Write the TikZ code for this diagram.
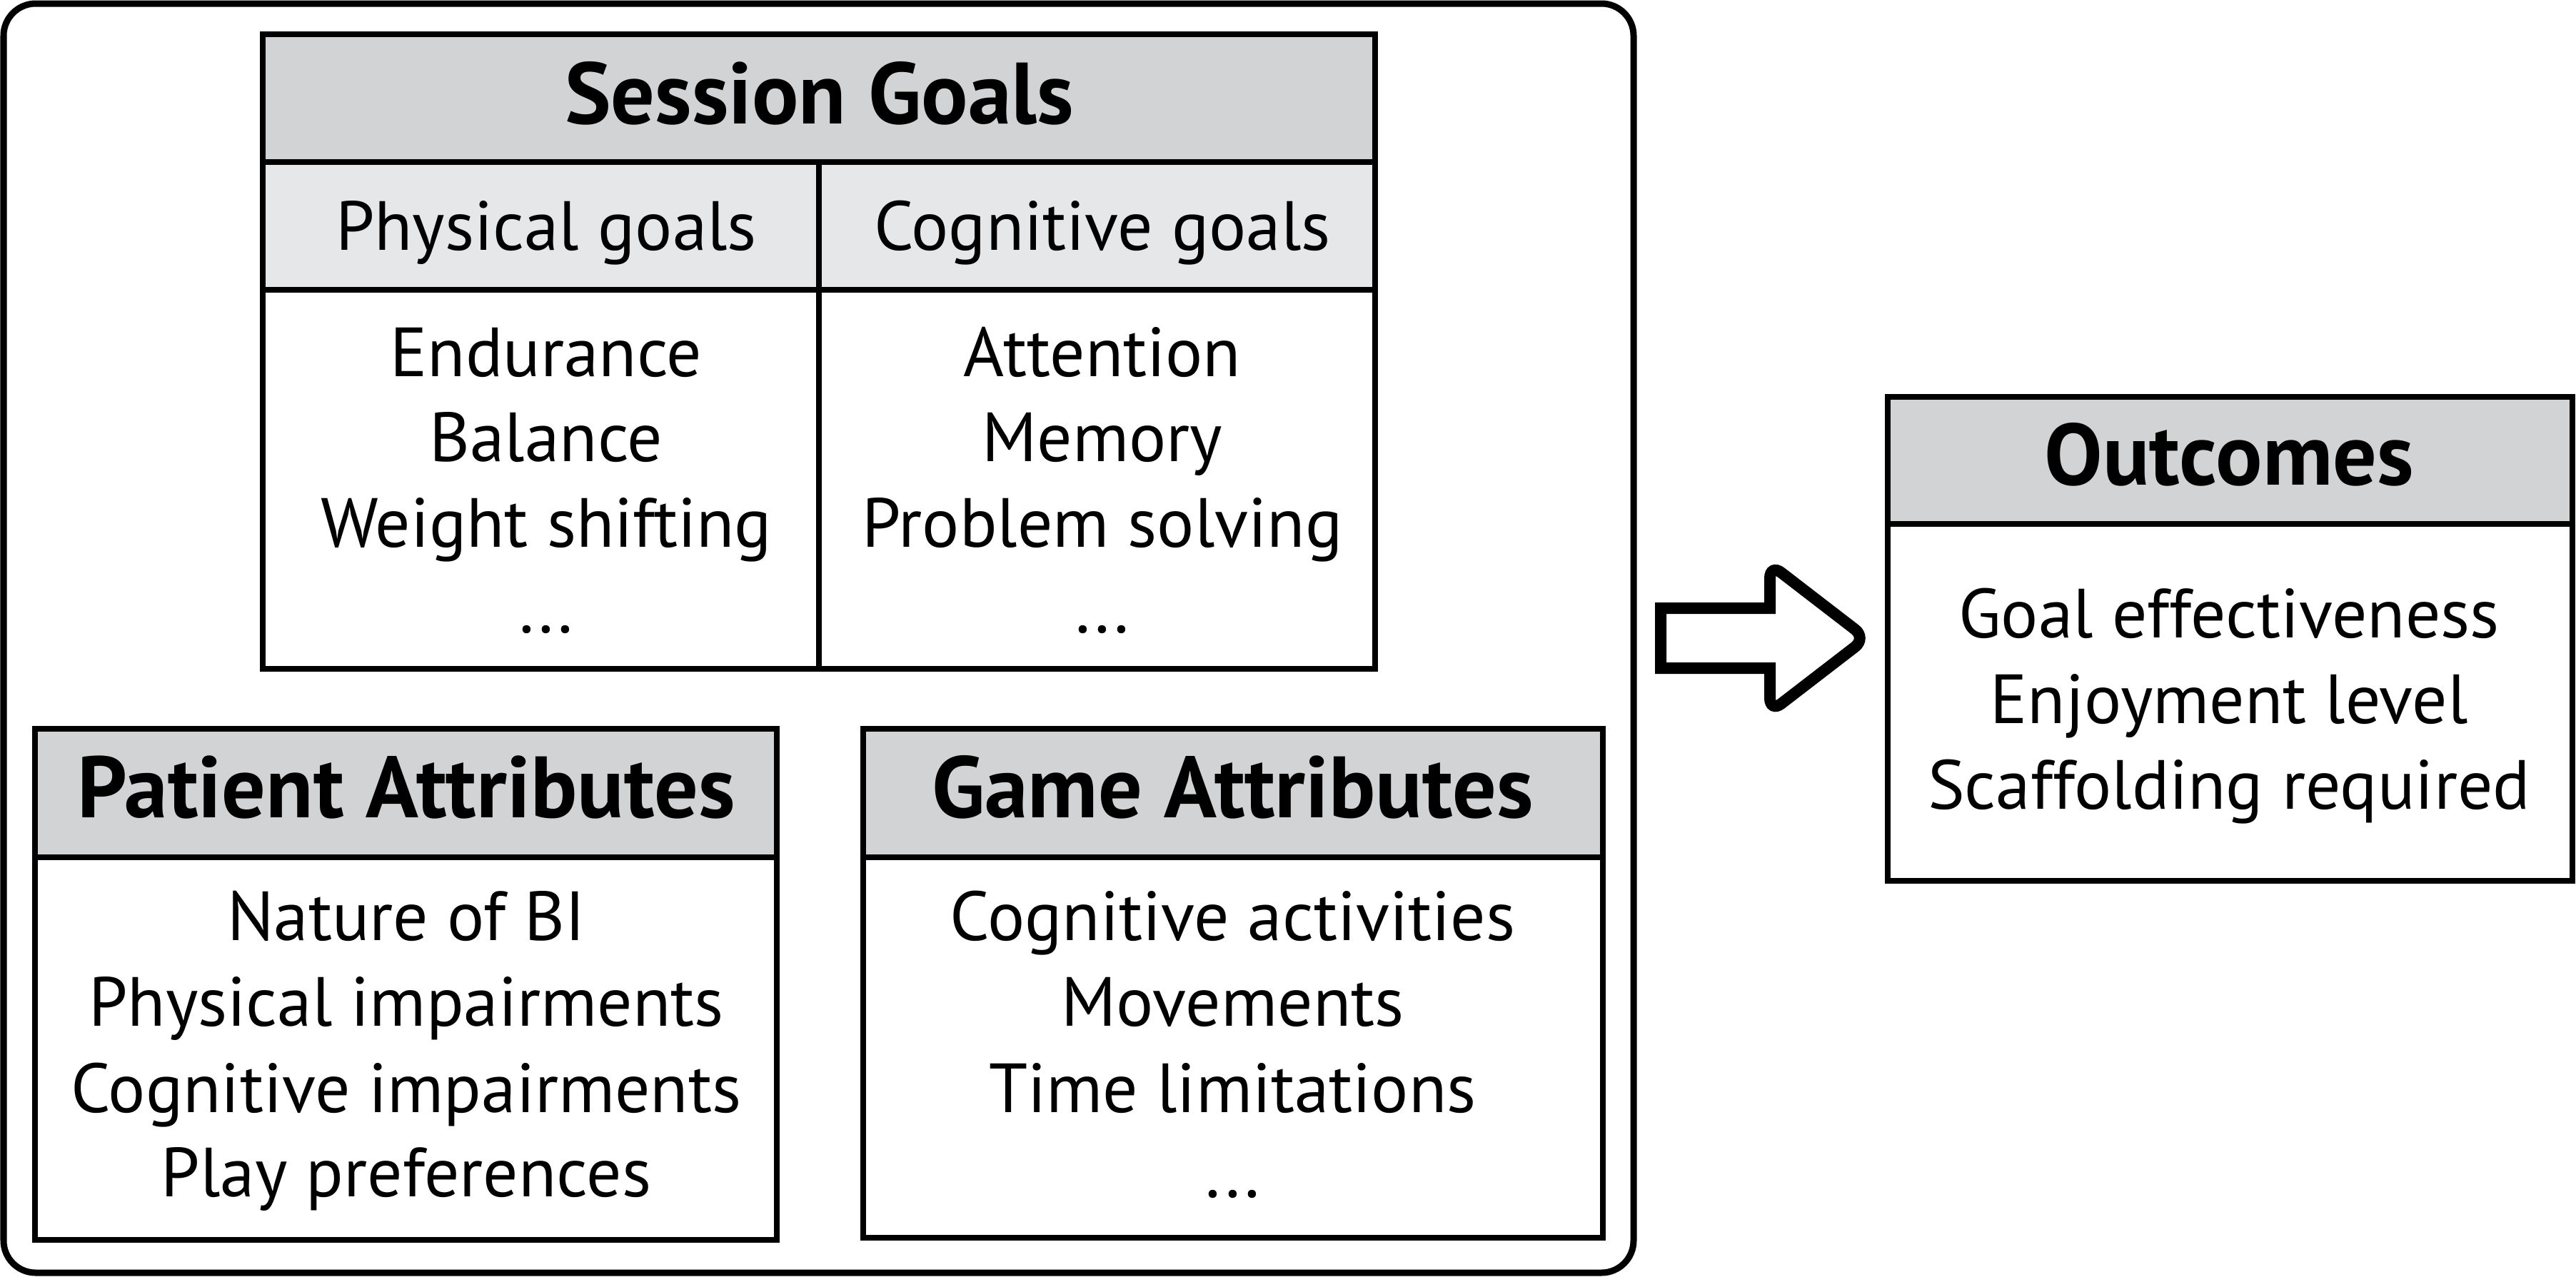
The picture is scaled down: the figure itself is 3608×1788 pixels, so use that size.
\documentclass[tikz,border=0pt]{standalone}
\usepackage{fontspec}
\setmainfont{PT Sans}
\definecolor{hdrgray}{HTML}{D1D3D4}
\definecolor{subgray}{HTML}{E6E7E8}
\begin{document}
\begin{tikzpicture}[x=0.2pt,y=-0.2pt,
  boxline/.style={line width=1.6pt, draw=black},
  bodytxt/.style={anchor=base, inner sep=0pt, font=\fontsize{19.5}{24}\selectfont},
  hdrtxt/.style={anchor=base, inner sep=0pt, font=\fontsize{24.4}{28}\selectfont\bfseries},
  blockarrow/.style={line width=3.2pt, draw=black, fill=white, line join=miter},
]
\useasboundingbox (0,0) rectangle (3608,1788);
% outer container
\draw[line width=1.8pt, rounded corners=9pt] (5,5) rectangle (2288,1783);

% ---------- Session Goals ----------
\fill[hdrgray] (368,47.5) rectangle (1926,226.5);
\fill[subgray] (368,226.5) rectangle (1926,406);
\draw[boxline] (368,47.5) rectangle (1926,936.5);
\draw[boxline] (368,226.5) -- (1926,226.5);
\draw[boxline] (368,406) -- (1926,406);
\draw[boxline] (1147,226.5) -- (1147,936.5);
\node[hdrtxt] (sgh) at (1147.5,173) {Session Goals};
\node[bodytxt] (pgh) at (765,350) {Physical goals};
\node[bodytxt] (cgh) at (1544,350) {Cognitive goals};
\node[bodytxt] (pg1) at (765,527) {Endurance};
\node[bodytxt] (pg2) at (765,646) {Balance};
\node[bodytxt] (pg3) at (765,766) {Weight shifting};
\node[bodytxt] (pg4) at (765,886) {...};
\node[bodytxt] (cg1) at (1544,527) {Attention};
\node[bodytxt] (cg2) at (1544,646) {Memory};
\node[bodytxt] (cg3) at (1544,766) {Problem solving};
\node[bodytxt] (cg4) at (1544,886) {...};

% ---------- Patient Attributes ----------
\fill[hdrgray] (49,1021) rectangle (1087.5,1200.5);
\draw[boxline] (49,1021) rectangle (1087.5,1736.5);
\draw[boxline] (49,1200.5) -- (1087.5,1200.5);
\node[hdrtxt] (pah) at (569,1145) {Patient Attributes};
\node[bodytxt] (pa1) at (569,1317) {Nature of BI};
\node[bodytxt] (pa2) at (569,1437) {Physical impairments};
\node[bodytxt] (pa3) at (569,1558) {Cognitive impairments};
\node[bodytxt] (pa4) at (569,1676) {Play preferences};

% ---------- Game Attributes ----------
\fill[hdrgray] (1208.5,1021) rectangle (2244.5,1200.5);
\draw[boxline] (1208.5,1021) rectangle (2244.5,1734);
\draw[boxline] (1208.5,1200.5) -- (2244.5,1200.5);
\node[hdrtxt] (gah) at (1726.5,1145) {Game Attributes};
\node[bodytxt] (ga1) at (1726.5,1317) {Cognitive activities};
\node[bodytxt] (ga2) at (1726.5,1437) {Movements};
\node[bodytxt] (ga3) at (1726.5,1558) {Time limitations};
\node[bodytxt] (ga4) at (1726.5,1677) {...};

% ---------- Outcomes ----------
\fill[hdrgray] (2644,555.5) rectangle (3602.5,734);
\draw[boxline] (2644,555.5) rectangle (3602.5,1233.5);
\draw[boxline] (2644,734) -- (3602.5,734);
\node[hdrtxt] (och) at (3122,679) {Outcomes};
\node[bodytxt] (oc1) at (3122,893) {Goal effectiveness};
\node[bodytxt] (oc2) at (3122,1013) {Enjoyment level};
\node[bodytxt] (oc3) at (3122,1133) {Scaffolding required};

% ---------- block arrow ----------
\draw[blockarrow] (2326,852) -- (2479,852) [rounded corners=4pt] -- (2479,790) -- (2614,894) -- (2479,998) [sharp corners] -- (2479,936) -- (2326,936) -- cycle;
\end{tikzpicture}
\end{document}
